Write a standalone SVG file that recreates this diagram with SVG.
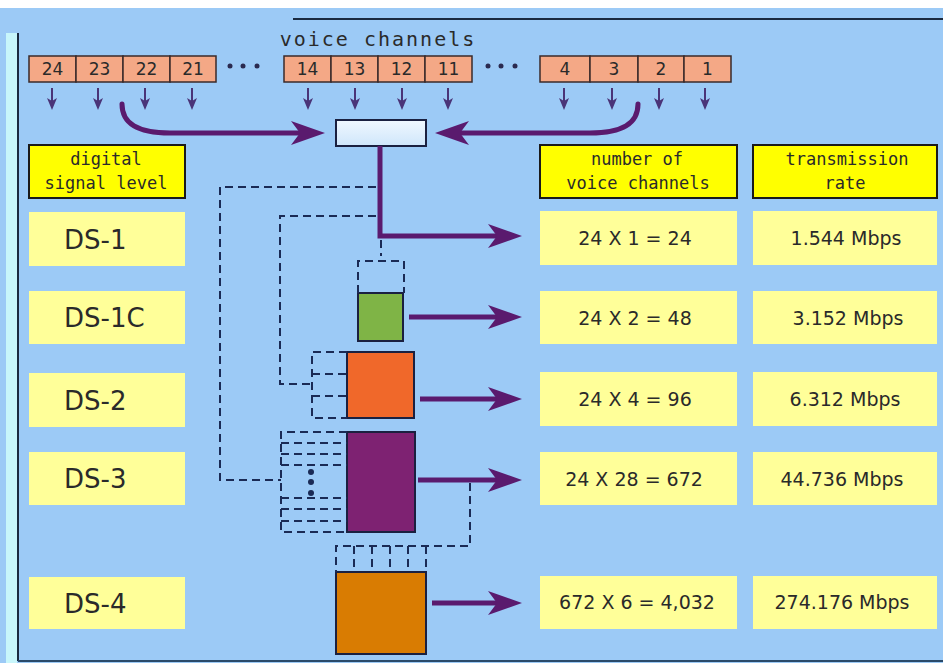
<svg xmlns="http://www.w3.org/2000/svg" width="943" height="663" viewBox="0 0 943 663">
<style>
.bg{fill:#9ccaf6}
.ch{fill:#f4a886;stroke:#3a2a2a;stroke-width:1.5}
.chn{font-family:"DejaVu Sans",sans-serif;font-size:17px;fill:#2a2a2a;text-anchor:middle}
.hdr{fill:#ffff00;stroke:#1a1a1a;stroke-width:2}
.hdt{font-family:"DejaVu Sans Mono",monospace;font-size:17px;fill:#2a2a2a;text-anchor:middle}
.row{fill:#ffff99}
.ds{font-family:"DejaVu Sans",sans-serif;font-size:26px;fill:#2a2a2a}
.val{font-family:"DejaVu Sans",sans-serif;font-size:19px;fill:#2a2a2a;text-anchor:middle}
.sa{stroke:#4a3478;stroke-width:2;fill:none}
.big{stroke:#5a1a6e;stroke-width:5;fill:none}
.dash{stroke:#1a2a55;stroke-width:2;fill:none;stroke-dasharray:8,5}
.mux{stroke:#1a2040;stroke-width:2}
</style>
<defs>
<marker id="sh" viewBox="0 0 12 10" refX="3" refY="5" markerWidth="12" markerHeight="10" markerUnits="userSpaceOnUse" orient="auto">
<path d="M0,0 L12,5 L0,10 L3,5 z" fill="#4a3478"/>
</marker>
<marker id="bh" viewBox="0 0 34 24" refX="10" refY="12" markerWidth="34" markerHeight="24" markerUnits="userSpaceOnUse" orient="auto">
<path d="M0,0 L34,12 L0,24 L9,12 z" fill="#5a1a6e"/>
</marker>
<linearGradient id="mg" x1="0" y1="0" x2="0" y2="1">
<stop offset="0" stop-color="#f0f8ff"/>
<stop offset="1" stop-color="#cfe6fb"/>
</linearGradient>
</defs>

<rect width="943" height="663" class="bg"/>
<rect x="0" y="0" width="943" height="8" fill="#ffffff"/>
<rect x="6" y="33" width="11" height="630" fill="#c8f6fb"/>
<line x1="18" y1="33" x2="18" y2="661" stroke="#1a2a40" stroke-width="2"/>
<line x1="293" y1="19" x2="943" y2="19" stroke="#1a2a40" stroke-width="2"/>
<line x1="18" y1="661" x2="943" y2="661" stroke="#2a4a6a" stroke-width="2"/>

<g id="title">
<text x="378" y="46" font-family="DejaVu Sans Mono, monospace" font-size="20" fill="#2a2a2a" text-anchor="middle" letter-spacing="2">voice channels</text>
</g>

<g id="channels">
<rect class="ch" x="29" y="56" width="47" height="26"/><text class="chn" x="52.5" y="75">24</text>
<rect class="ch" x="76" y="56" width="47" height="26"/><text class="chn" x="99.5" y="75">23</text>
<rect class="ch" x="123" y="56" width="47" height="26"/><text class="chn" x="146.5" y="75">22</text>
<rect class="ch" x="170" y="56" width="46" height="26"/><text class="chn" x="193" y="75">21</text>
<circle cx="230" cy="66" r="2.5" fill="#2a2a50"/><circle cx="243" cy="66" r="2.5" fill="#2a2a50"/><circle cx="257" cy="66" r="2.5" fill="#2a2a50"/>
<rect class="ch" x="284" y="56" width="47" height="26"/><text class="chn" x="307.5" y="75">14</text>
<rect class="ch" x="331" y="56" width="47" height="26"/><text class="chn" x="354.5" y="75">13</text>
<rect class="ch" x="378" y="56" width="47" height="26"/><text class="chn" x="401.5" y="75">12</text>
<rect class="ch" x="425" y="56" width="47" height="26"/><text class="chn" x="448.5" y="75">11</text>
<circle cx="488" cy="66" r="2.5" fill="#2a2a50"/><circle cx="501" cy="66" r="2.5" fill="#2a2a50"/><circle cx="515" cy="66" r="2.5" fill="#2a2a50"/>
<rect class="ch" x="540" y="56" width="50" height="26"/><text class="chn" x="565" y="75">4</text>
<rect class="ch" x="590" y="56" width="48" height="26"/><text class="chn" x="614" y="75">3</text>
<rect class="ch" x="638" y="56" width="46" height="26"/><text class="chn" x="661" y="75">2</text>
<rect class="ch" x="684" y="56" width="47" height="26"/><text class="chn" x="707.5" y="75">1</text>
</g>

<g id="mux">
<rect x="336" y="120" width="90" height="26" fill="url(#mg)" class="mux"/>
</g>

<g id="headers">
<rect class="hdr" x="29" y="145" width="156" height="53"/>
<text class="hdt" x="106" y="165">digital</text>
<text class="hdt" x="106" y="189">signal level</text>
<rect class="hdr" x="540" y="145" width="197" height="53"/>
<text class="hdt" x="637" y="165">number of</text>
<text class="hdt" x="638" y="189">voice channels</text>
<rect class="hdr" x="753" y="145" width="184" height="53"/>
<text class="hdt" x="847" y="165">transmission</text>
<text class="hdt" x="845" y="189">rate</text>
</g>

<g id="ds1"><rect class="row" x="29" y="212" width="156" height="54"/><text class="ds" x="64" y="249">DS-1</text></g>
<g id="ds1c"><rect class="row" x="29" y="291" width="156" height="53"/><text class="ds" x="64" y="327">DS-1C</text></g>
<g id="ds2"><rect class="row" x="29" y="373" width="156" height="54"/><text class="ds" x="64" y="410">DS-2</text></g>
<g id="ds3"><rect class="row" x="29" y="452" width="156" height="53"/><text class="ds" x="64" y="488">DS-3</text></g>
<g id="ds4"><rect class="row" x="29" y="577" width="156" height="52"/><text class="ds" x="64" y="613">DS-4</text></g>

<g id="n1"><rect class="row" x="540" y="211" width="197" height="54"/><text class="val" x="635" y="245">24 X 1 = 24</text></g>
<g id="n2"><rect class="row" x="540" y="291" width="197" height="53"/><text class="val" x="635" y="325">24 X 2 = 48</text></g>
<g id="n3"><rect class="row" x="540" y="372" width="197" height="54"/><text class="val" x="635" y="406">24 X 4 = 96</text></g>
<g id="n4"><rect class="row" x="540" y="452" width="197" height="53"/><text class="val" x="634" y="486">24 X 28 = 672</text></g>
<g id="n5"><rect class="row" x="540" y="576" width="197" height="53"/><text class="val" x="637" y="609">672 X 6 = 4,032</text></g>

<g id="r1"><rect class="row" x="753" y="211" width="184" height="54"/><text class="val" x="846" y="245">1.544 Mbps</text></g>
<g id="r2"><rect class="row" x="753" y="291" width="184" height="53"/><text class="val" x="848" y="325">3.152 Mbps</text></g>
<g id="r3"><rect class="row" x="753" y="372" width="184" height="54"/><text class="val" x="845" y="406">6.312 Mbps</text></g>
<g id="r4"><rect class="row" x="753" y="452" width="184" height="53"/><text class="val" x="842" y="486">44.736 Mbps</text></g>
<g id="r5"><rect class="row" x="753" y="576" width="184" height="53"/><text class="val" x="842" y="609">274.176 Mbps</text></g>

<g id="ds1c-box"><rect x="358" y="293" width="45" height="48" fill="#7fb446" class="mux"/></g>
<g id="ds2-box"><rect x="347" y="352" width="67" height="66" fill="#f0682a" class="mux"/></g>
<g id="ds3-box"><rect x="347" y="432" width="68" height="100" fill="#7e2272" class="mux"/></g>
<g id="ds4-box"><rect x="336" y="572" width="90" height="82" fill="#d97c02" class="mux"/></g>

<g id="connectors">
<!-- small channel arrows -->
<line class="sa" x1="52" y1="88" x2="52" y2="101" marker-end="url(#sh)"/>
<line class="sa" x1="98" y1="88" x2="98" y2="101" marker-end="url(#sh)"/>
<line class="sa" x1="145" y1="88" x2="145" y2="101" marker-end="url(#sh)"/>
<line class="sa" x1="192" y1="88" x2="192" y2="101" marker-end="url(#sh)"/>
<line class="sa" x1="308" y1="88" x2="308" y2="101" marker-end="url(#sh)"/>
<line class="sa" x1="355" y1="88" x2="355" y2="101" marker-end="url(#sh)"/>
<line class="sa" x1="402" y1="88" x2="402" y2="101" marker-end="url(#sh)"/>
<line class="sa" x1="448" y1="88" x2="448" y2="101" marker-end="url(#sh)"/>
<line class="sa" x1="564" y1="88" x2="564" y2="101" marker-end="url(#sh)"/>
<line class="sa" x1="612" y1="88" x2="612" y2="101" marker-end="url(#sh)"/>
<line class="sa" x1="659" y1="88" x2="659" y2="101" marker-end="url(#sh)"/>
<line class="sa" x1="705" y1="88" x2="705" y2="101" marker-end="url(#sh)"/>

<!-- curved feeds into mux -->
<path class="big" d="M122,104 C122,124 138,133 170,133 L301,133" stroke-linecap="round" marker-end="url(#bh)"/>
<path class="big" d="M638,104 C638,124 622,133 590,133 L459,133" stroke-linecap="round" marker-end="url(#bh)"/>

<!-- DS-1 output -->
<path class="big" d="M380,146 L380,236 L498,236" marker-end="url(#bh)"/>
<line class="big" x1="409" y1="317" x2="498" y2="317" marker-end="url(#bh)"/>
<line class="big" x1="420" y1="399" x2="498" y2="399" marker-end="url(#bh)"/>
<line class="big" x1="418" y1="480" x2="498" y2="480" marker-end="url(#bh)"/>
<line class="big" x1="432" y1="603" x2="498" y2="603" marker-end="url(#bh)"/>

<!-- DS-1 to DS-1C -->
<path class="dash" d="M381,240 L381,256" stroke-dasharray="10,4"/>
<path class="dash" d="M358,293 L358,261 L404,261 L404,293"/>

<!-- DS-1 to DS-2 -->
<path class="dash" d="M376,216 L280,216 L280,384 L312,384"/>
<path class="dash" d="M347,352 L312,352 L312,418 L347,418"/>
<path class="dash" d="M312,374 L347,374 M312,396 L347,396"/>

<!-- DS-1 to DS-3 -->
<path class="dash" d="M376,187 L220,187 L220,480 L281,480"/>
<path class="dash" d="M347,432 L281,432 L281,532 L347,532"/>
<path class="dash" d="M281,443 L347,443 M281,454 L347,454 M281,465 L347,465 M281,498 L347,498 M281,509 L347,509 M281,521 L347,521"/>
<circle cx="311" cy="472" r="3" fill="#1a2a55"/>
<circle cx="311" cy="482" r="3" fill="#1a2a55"/>
<circle cx="311" cy="493" r="3" fill="#1a2a55"/>

<!-- DS-3 to DS-4 -->
<path class="dash" d="M470,483 L470,546 L336,546 L336,572"/>
<path class="dash" d="M354,546 L354,572 M372,546 L372,572 M390,546 L390,572 M408,546 L408,572 M426,546 L426,572" stroke-dasharray="6,4"/>
</g>
</svg>
